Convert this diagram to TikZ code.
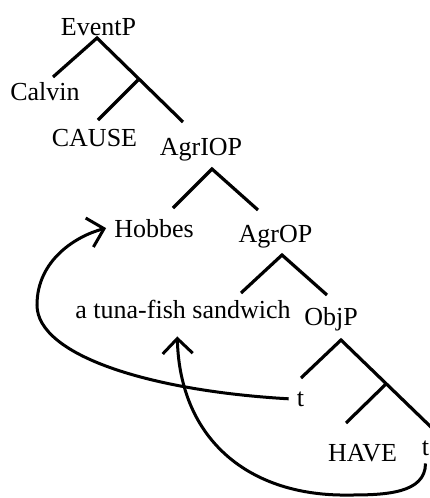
\documentclass[tikz,border=0pt]{standalone}
\usepackage{fontspec}
\setmainfont{Liberation Serif}
\usetikzlibrary{arrows.meta}
\begin{document}
\begin{tikzpicture}[x=1pt,y=1pt,
  lb/.style={anchor=base, font=\fontsize{26}{30}\selectfont, inner sep=8pt},
  br/.style={line width=3.2pt},
  mv/.style={line width=3pt, -{Straight Barb[length=15pt,width=30pt]}}]
\useasboundingbox (0,0) rectangle (430,-498);
\node[lb] (EventP) at (98.5,-35) {EventP};
\node[lb] (Calvin) at (45,-100) {Calvin};
\node[lb] (CAUSE) at (94.5,-146) {CAUSE};
\node[lb] (AgrIOP) at (201,-155) {AgrIOP};
\node[lb] (Hobbes) at (154,-237) {Hobbes};
\node[lb] (AgrOP) at (275.5,-242) {AgrOP};
\node[lb] (sandwich) at (183,-318) {a tuna-fish sandwich};
\node[lb] (ObjP) at (331,-325) {ObjP};
\node[lb] (t1) at (300.5,-406) {t};
\node[lb] (HAVE) at (362.5,-461) {HAVE};
\node[lb] (t2) at (425.5,-455) {t};
\coordinate (ep) at (97,-38);
\coordinate (ep-l) at (53,-77);
\coordinate (ep-m) at (138,-80);
\coordinate (ep-ml) at (98,-120);
\coordinate (ep-r) at (183,-122);
\coordinate (aio) at (212,-169);
\coordinate (aio-l) at (173,-208);
\coordinate (aio-r) at (258,-210);
\coordinate (ao) at (282,-255);
\coordinate (ao-l) at (241,-293);
\coordinate (ao-r) at (327,-295);
\coordinate (op) at (341,-340);
\coordinate (op-l) at (301,-378);
\coordinate (op-m) at (387,-383);
\coordinate (op-ml) at (346,-423);
\coordinate (op-r) at (433,-429);
\coordinate (lp) at (37,-305);
\coordinate (lw) at (350,-495);
\draw[br] (ep-l)--(ep)--(ep-r);
\draw[br] (ep-m)--(ep-ml);
\draw[br] (aio-l)--(aio)--(aio-r);
\draw[br] (ao-l)--(ao)--(ao-r);
\draw[br] (op-l)--(op)--(op-r);
\draw[br] (op-m)--(op-ml);
\draw[mv] (t1.west) .. controls +(-140,8) and +(0,-50) .. (lp)
  .. controls +(0,45) and +(-30,-8) .. (Hobbes.west);
\draw[mv, shorten >=10pt] (t2.south) .. controls +(0,-30) and +(35,0) .. (lw)
  .. controls +(-100,-2) and +(3,-114) .. ([xshift=-6pt]sandwich.south);
\end{tikzpicture}
\end{document}
